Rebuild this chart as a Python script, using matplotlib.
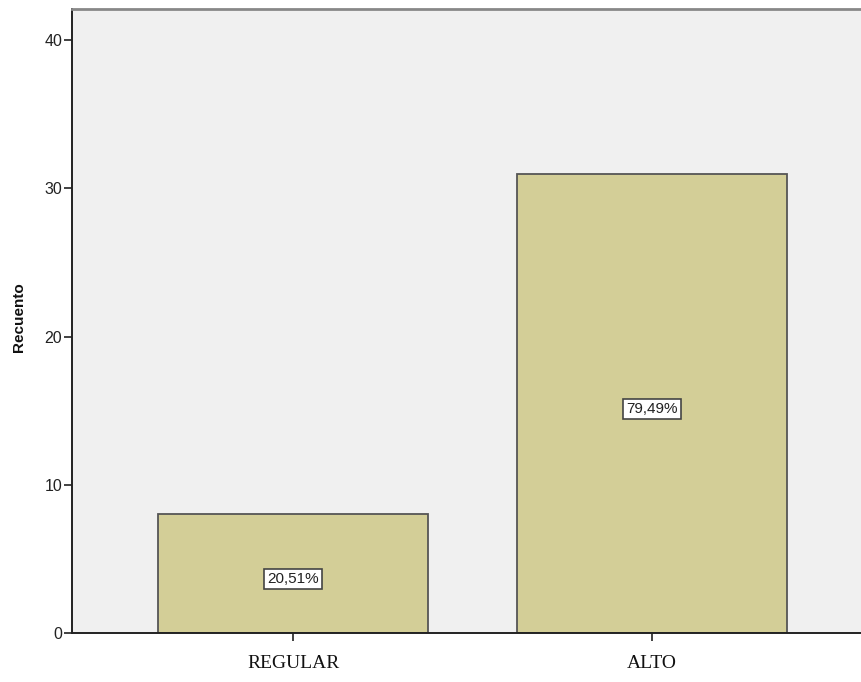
import matplotlib
matplotlib.use("Agg")
import matplotlib.pyplot as plt

categories = ["REGULAR", "ALTO"]
counts = [8, 31]
percent_labels = ["20,51%", "79,49%"]

W, H, DPI = 861, 682, 100
fig = plt.figure(figsize=(W / DPI, H / DPI), dpi=DPI)
fig.patch.set_facecolor("white")

# plot area extends a little past the right edge of the canvas
left, right = 72 / W, 873 / W
bottom, top = 1 - 633 / H, 1 - 9 / H
ax = fig.add_axes([left, bottom, right - left, top - bottom])
ax.set_facecolor("#f0f0f0")

x = list(range(len(categories)))
ax.bar(x, counts, width=0.752, color="#d3ce97", edgecolor="#555555",
       linewidth=1.3, zorder=2)

for xi, c, lab in zip(x, counts, percent_labels):
    ax.annotate(lab, (xi, c / 2), xytext=(0, -4), textcoords="offset points",
                ha="center", va="center", fontsize=11,
                family="Liberation Sans", color="#222222", zorder=3,
                bbox=dict(boxstyle="square,pad=0.2", fc="white",
                          ec="#444444", lw=1.2))

ax.set_xlim(-0.616, 1.616)
ax.set_ylim(0, 42.1)
ax.set_yticks([0, 10, 20, 30, 40])
ax.set_xticks(x)
ax.set_xticklabels(categories, family="Liberation Serif", fontsize=14,
                   color="#111111")
for t in ax.get_yticklabels():
    t.set_family("Liberation Sans")
    t.set_fontsize(11.5)
    t.set_color("#222222")

ax.tick_params(axis="y", direction="out", length=6, width=1.3,
               color="#333333", pad=1)
ax.tick_params(axis="x", direction="out", length=6, width=1.3,
               color="#333333", pad=10)

ax.set_ylabel("Recuento", family="Liberation Sans", fontweight="bold",
              fontsize=11, color="#111111")
ax.yaxis.set_label_coords(-0.057, 0.506)

for side in ("left", "bottom"):
    ax.spines[side].set_color("#222222")
    ax.spines[side].set_linewidth(1.4)
ax.spines["top"].set_color("#888888")
ax.spines["top"].set_linewidth(2)
ax.spines["right"].set_visible(False)

fig.savefig("out.png", dpi=DPI)
